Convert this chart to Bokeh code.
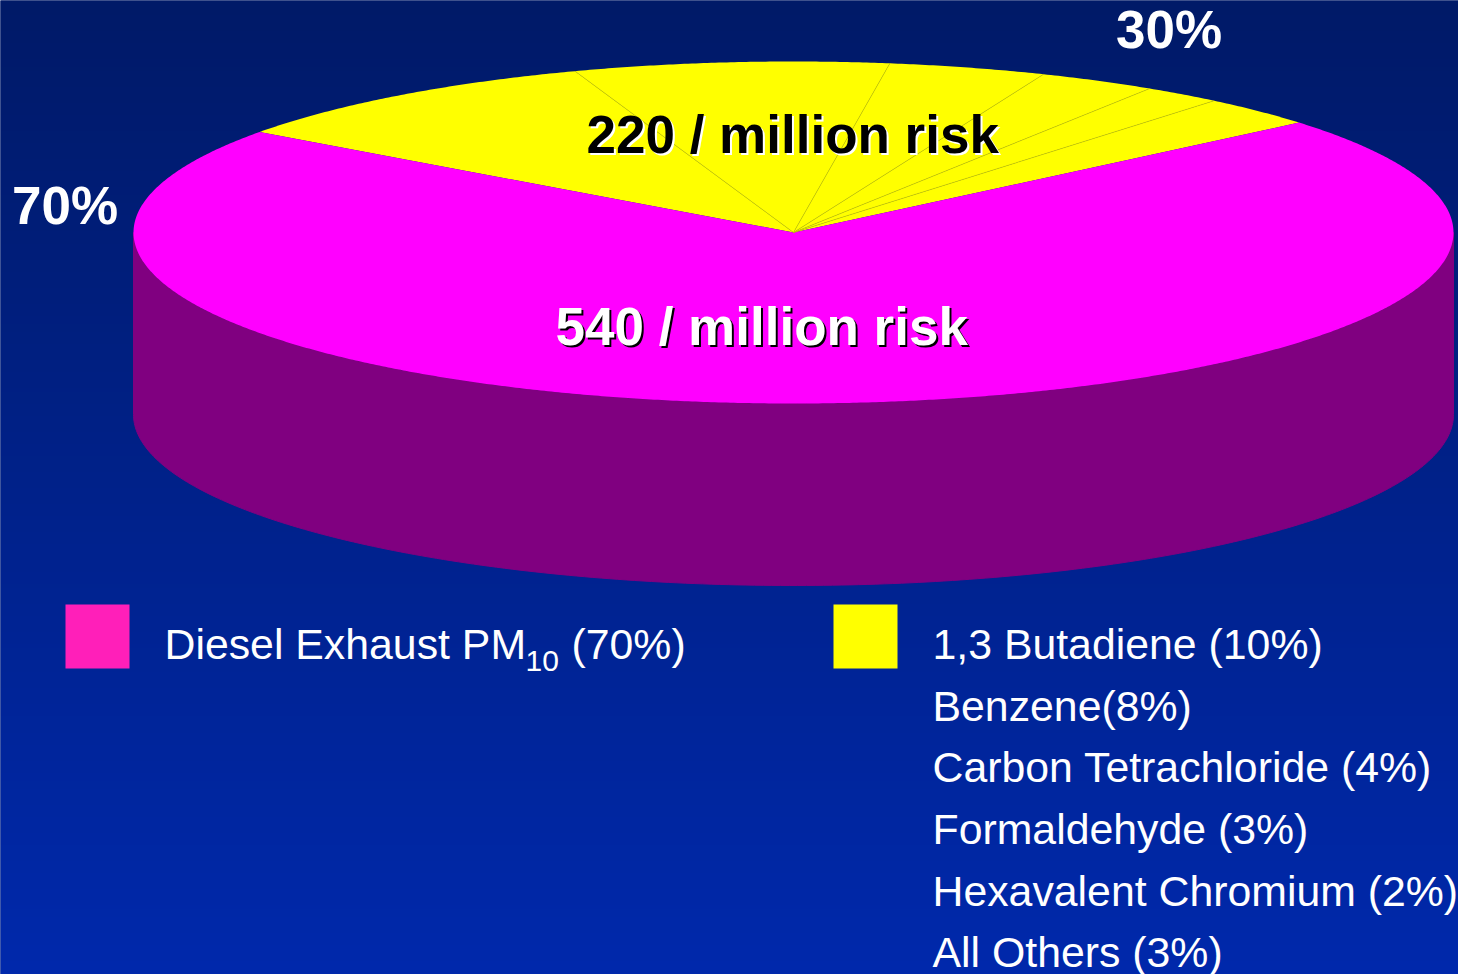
import numpy as np
from bokeh.plotting import figure
from bokeh.models import Range1d
from bokeh.core.properties import value
from bokeh.embed import file_html
from bokeh.resources import INLINE

categories = ["1,3 Butadiene", "Benzene", "Carbon Tetrachloride", "Formaldehyde",
              "Hexavalent Chromium", "All Others", "Diesel Exhaust PM10"]
shares = [10, 8, 4, 3, 2, 3, 70]
slice_colors = ["#FFFF00"] * 6 + ["#FF00FF"]
yellow_labels = ["1,3 Butadiene (10%)", "Benzene(8%)", "Carbon Tetrachloride (4%)",
                 "Formaldehyde (3%)", "Hexavalent Chromium (2%)", "All Others (3%)"]

W, H = 1458, 974
CX, CY, RX, RY, DEPTH = 793, 232, 660, 171, 182
START, YELLOW_SPAN = 144.0, 104.0

p = figure(width=W, height=H, x_range=Range1d(0, W), y_range=Range1d(H, 0),
           output_backend="svg", toolbar_location=None, min_border=0,
           background_fill_color="#001A68", border_fill_color="#001A68")
p.axis.visible = False
p.grid.visible = False
p.outline_line_color = None

# background gradient
top, bot = np.array([0, 26, 104]), np.array([0, 41, 172])
n = 244
img = np.zeros((n, 1), dtype=np.uint32)
view = img.view(np.uint8).reshape(n, 1, 4)
t = np.linspace(0, 1, n)
for i in range(3):
    view[:, 0, i] = (top[i] + (bot[i] - top[i]) * t).astype(np.uint8)
view[:, 0, 3] = 255
p.image_rgba(image=[img], x=-2, y=-2, dw=W + 4, dh=H + 4)

def rim(a_deg):
    a = np.radians(a_deg)
    return CX + RX * np.cos(a), CY - RY * np.sin(a)

# side wall
a = np.linspace(180, 360, 240)
xs, ys = rim(a)
p.patch(np.r_[xs, xs[::-1]], np.r_[ys + DEPTH, ys[::-1]], fill_color="#800080", line_color="#800080", line_width=1)

# top face slices
yellow_total = sum(shares[:6])
spans = [s / yellow_total * YELLOW_SPAN for s in shares[:6]]
spans.append(360 - YELLOW_SPAN)
px, py, bx, by = [], [], [], []
ang = START
for sp in spans:
    arc = np.linspace(ang, ang - sp, max(int(sp * 3), 8))
    x, y = rim(arc)
    px.append(np.r_[CX, x])
    py.append(np.r_[CY, y])
    bx.append(x[-1]); by.append(y[-1])
    ang -= sp
p.patches(px, py, fill_color=slice_colors, line_color=None)
p.segment(x0=[CX] * 5, y0=[CY] * 5, x1=bx[:5], y1=by[:5], line_color="#C8C800", line_width=0.6)

F = value("Liberation Sans")
def txt(x, y, s, size, color, style="normal"):
    # the svg text sits lower than its anchor by about 0.38 of the font size
    p.text(x=[x], y=[y - 0.38 * size], text=[s], text_font=F, text_font_size=f"{size}px", text_color=color,
           text_font_style=style, text_baseline="alphabetic", text_align="left")

txt(11.5, 225, "70%", 53, "#FFFFFF", "bold")
txt(1115.5, 49, "30%", 53, "#FFFFFF", "bold")
txt(588, 156, "220 / million risk", 53, "#FFFFFF", "bold")
txt(586, 154, "220 / million risk", 53, "#000000", "bold")
txt(557, 348, "540 / million risk", 53, "#000000", "bold")
txt(555, 346, "540 / million risk", 53, "#FFFFFF", "bold")

p.quad(left=[65], right=[129], top=[604], bottom=[668], fill_color="#FF1FB9", line_color=None)
p.quad(left=[833], right=[897], top=[604], bottom=[668], fill_color="#FFFF00", line_color=None)

txt(164, 660, "Diesel Exhaust PM", 42.8, "#FFFFFF")
txt(525, 672, "10", 30, "#FFFFFF")
txt(571, 660, "(70%)", 42.8, "#FFFFFF")
for lbl, base in zip(yellow_labels, [660, 722, 783, 845, 907, 968]):
    txt(932, base, lbl, 42.8, "#FFFFFF")

open("out.html", "w").write(file_html(p, INLINE))
